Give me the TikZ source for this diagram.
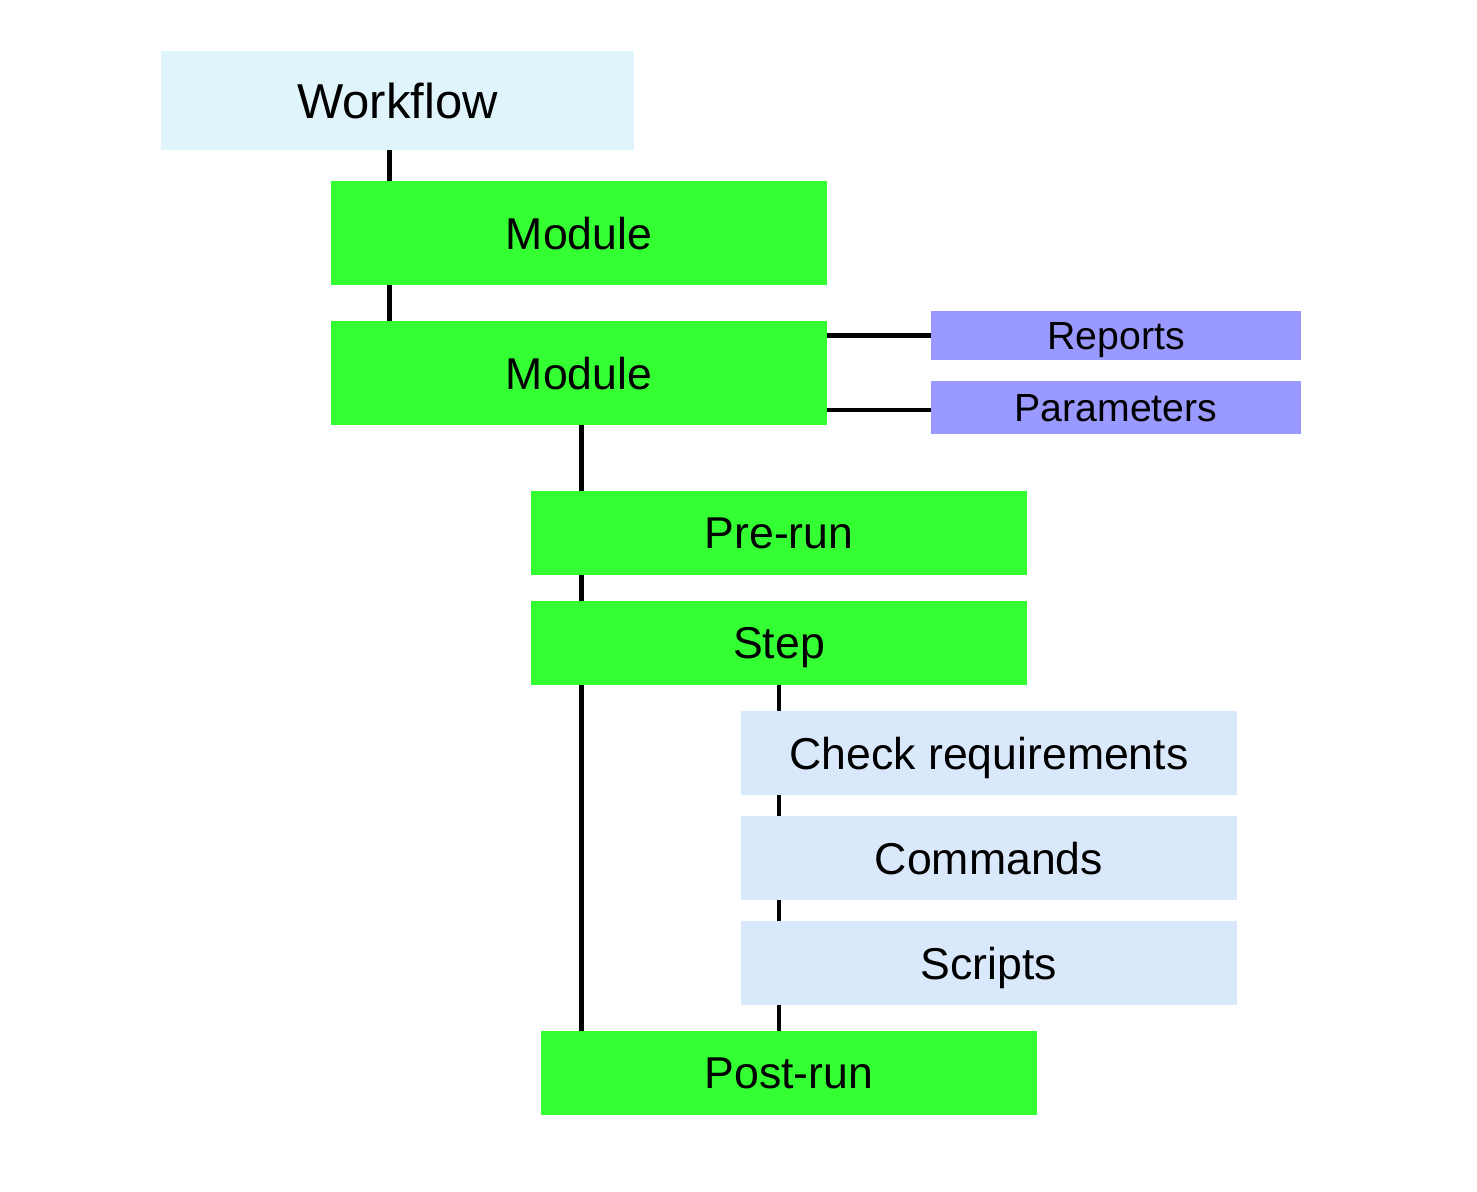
\documentclass[tikz,border=0pt]{standalone}
\usepackage{fontspec}
\setmainfont{Liberation Sans}
\usepackage{tikz}
\definecolor{wfblue}{rgb}{0.878,0.957,0.988}
\definecolor{modgreen}{rgb}{0.2,1.,0.2}
\definecolor{extpurple}{rgb}{0.6,0.6,1.}
\definecolor{stepblue}{rgb}{0.855,0.91,0.988}
\begin{document}
\begin{tikzpicture}[line cap=butt,line join=round,x=0.5pt,y=-0.5pt,
  box/.style={inner sep=0pt,text depth=0pt,minimum width=248pt,minimum height=42pt,font=\fontsize{22.3}{26}\selectfont},
  greenbox/.style={box,fill=modgreen},
  taskbox/.style={box,fill=stepblue},
  extbox/.style={box,fill=extpurple,minimum width=185pt,font=\fontsize{19.6}{23}\selectfont},
  link/.style={line width=2.4pt,black}]
\useasboundingbox (0,0) rectangle (1477,1191);
% boxes
\node[box,fill=wfblue,minimum width=236.5pt,minimum height=49.5pt,font=\fontsize{24.5}{29}\selectfont] (workflow) at (397.5,100.5) {Workflow};
\node[greenbox,minimum height=52pt] (modA) at (579,233) {Module};
\node[greenbox,minimum height=52pt] (modB) at (579,373) {Module};
\node[extbox,minimum height=24.5pt] (reports) at (1116,335.5) {Reports};
\node[extbox,minimum height=26.5pt] (params) at (1116,407.5) {Parameters};
\node[greenbox] (prerun) at (779,533) {Pre-run};
\node[greenbox] (step) at (779,643) {Step};
\node[taskbox] (check) at (989,753) {Check requirements};
\node[taskbox] (commands) at (989,858) {Commands};
\node[taskbox] (scripts) at (989,963) {Scripts};
\node[greenbox] (postrun) at (789,1073) {Post-run};
% links
\draw[link] ([xshift=29.5pt]modA.north west) -- ([xshift=29.5pt]modA.north west |- workflow.south);
\draw[link] ([xshift=29.5pt]modB.north west) -- ([xshift=29.5pt]modB.north west |- modA.south);
\draw[link] (reports.west -| modB.east) -- (reports.west);
\draw[link] ([yshift=-1.2pt]params.west -| modB.east) -- ([yshift=-1.2pt]params.west);
\draw[link] ([xshift=25.5pt]prerun.north west) -- ([xshift=25.5pt]prerun.north west |- modB.south);
\draw[link] ([xshift=25.5pt]step.north west) -- ([xshift=25.5pt]step.north west |- prerun.south);
\draw[link] ([xshift=20.5pt]postrun.north west) -- ([xshift=20.5pt]postrun.north west |- step.south);
\draw[link] (step.south) -- (step.south |- check.north);
\draw[link] (step.south |- check.south) -- (step.south |- commands.north);
\draw[link] (step.south |- commands.south) -- (step.south |- scripts.north);
\draw[link] (step.south |- scripts.south) -- (step.south |- postrun.north);
\end{tikzpicture}
\end{document}
